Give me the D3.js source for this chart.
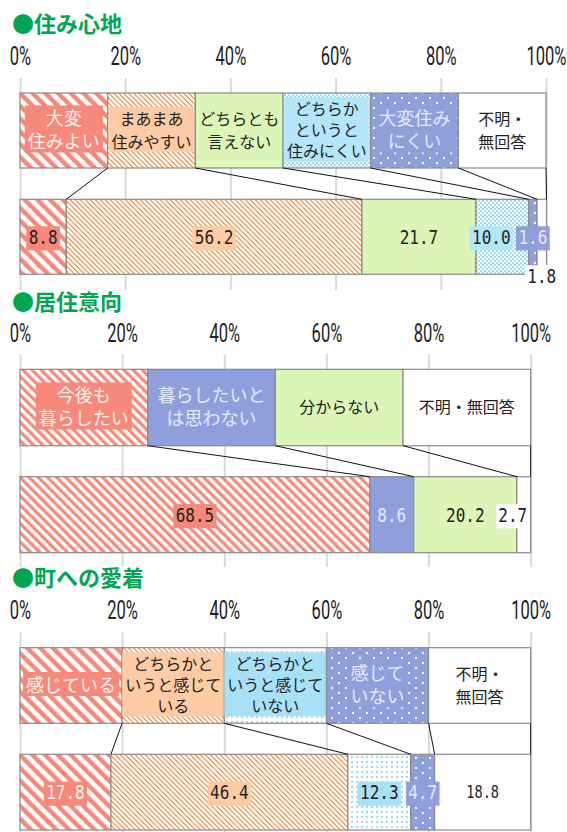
<!DOCTYPE html>
<html>
<head>
<meta charset="utf-8">
<script src="https://cdn.jsdelivr.net/npm/d3@7"></script>
<style>
body { margin: 0; background: #fff; }
</style>
</head>
<body>
<svg id="chart" width="567" height="832"></svg>
<script>
// data
var panelTitles = ["●住み心地", "●居住意向", "●町への愛着"];
var tickValues = [0, 20, 40, 60, 80, 100];

var sumiCats = ["大変\n住みよい", "まあまあ\n住みやすい", "どちらとも\n言えない", "どちらか\nというと\n住みにくい", "大変住み\nにくい", "不明・\n無回答"];
var sumiValues = [8.8, 56.2, 21.7, 10.0, 1.6, 1.8];

var kyojuCats = ["今後も\n暮らしたい", "暮らしたいと\nは思わない", "分からない", "不明・無回答"];
var kyojuValues = [68.5, 8.6, 20.2, 2.7];

var aichakuCats = ["感じている", "どちらかと\nいうと感じて\nいる", "どちらかと\nいうと感じて\nいない", "感じて\nいない", "不明・\n無回答"];
var aichakuValues = [17.8, 46.4, 12.3, 4.7, 18.8];

// styles
var fills = {
	salmonW: {fill: "url(#salmonW)", box: "#f7897b", ink: "#fff4f2", fs: 18},
	salmonN: {fill: "url(#salmonN)", box: "#f7897b", ink: "#fff4f2", fs: 18},
	orange: {fill: "url(#orange)", box: "#ffcba4", ink: "#222", fs: 16},
	green: {fill: "#dbf6b7", box: "#dbf6b7", ink: "#222", fs: 16},
	blueChk: {fill: "url(#blueChk)", box: "#b4e6f9", ink: "#222", fs: 16},
	blueDot: {fill: "url(#blueDot)", box: "#a8e0f6", ink: "#222", fs: 16},
	purpleDot: {fill: "url(#purpleDot)", box: "#8f9fdc", ink: "#e6eaff", fs: 18},
	purple: {fill: "#8f9fdc", box: "#8f9fdc", ink: "#e6eaff", fs: 18},
	white: {fill: "#fff", box: "#fff", ink: "#222", fs: 16}
};

var panels = [
	{title: panelTitles[0], cats: sumiCats, values: sumiValues,
	 styles: ["salmonW", "orange", "green", "blueChk", "purpleDot", "white"],
	 nudge: [{ink: "#222"}, {}, {}, {dx: -11}, {}, {dy: 39}]},
	{title: panelTitles[1], cats: kyojuCats, values: kyojuValues,
	 styles: ["salmonN", "purple", "green", "white"],
	 nudge: [{ink: "#222"}, {}, {}, {dx: -11}]},
	{title: panelTitles[2], cats: aichakuCats, values: aichakuValues,
	 styles: ["salmonW", "orange", "blueDot", "purpleDot", "white"],
	 nudge: [{}, {}, {}, {}, {fs: 17}]}
];

var layout = [
	{title: 24, tick: 56, gridTop: 78, gridBottom: 290, legY: 93, legH: 75, lowY: 199.3, lowH: 75, right: 546},
	{title: 302, tick: 333, gridTop: 354, gridBottom: 567, legY: 369.3, legH: 76.4, lowY: 476.7, lowH: 76, right: 530.7},
	{title: 578, tick: 610, gridTop: 632, gridBottom: 832, legY: 647.7, legH: 75.6, lowY: 754.3, lowH: 75.7, right: 530.7}
];

var svg = d3.select("#chart");
var defs = svg.append("defs");

// patterns
function stripePattern(id, s, color) {
	var p = defs.append("pattern").attr("id", id)
		.attr("patternUnits", "userSpaceOnUse")
		.attr("width", s).attr("height", s)
		.attr("patternTransform", "rotate(-45)");
	p.append("rect").attr("width", s).attr("height", s).attr("fill", "#fff");
	p.append("rect").attr("width", s / 2).attr("height", s).attr("fill", color);
}
stripePattern("salmonW", 9, "#f7897b");
stripePattern("salmonN", 6.5, "#f7897b");

var po = defs.append("pattern").attr("id", "orange")
	.attr("patternUnits", "userSpaceOnUse").attr("width", 5).attr("height", 5);
po.append("rect").attr("width", 5).attr("height", 5).attr("fill", "#fff");
d3.range(5).forEach(function(i) {
	po.append("rect").attr("x", i).attr("y", i).attr("width", 2).attr("height", 1).attr("fill", "#f7a468");
});
po.append("rect").attr("x", 0).attr("y", 4).attr("width", 1).attr("height", 1).attr("fill", "#f7a468");

var pc = defs.append("pattern").attr("id", "blueChk")
	.attr("patternUnits", "userSpaceOnUse").attr("width", 4).attr("height", 4);
pc.append("rect").attr("width", 4).attr("height", 4).attr("fill", "#9fdbf4");
pc.append("rect").attr("width", 2).attr("height", 2).attr("fill", "#fff");
pc.append("rect").attr("x", 2).attr("y", 2).attr("width", 2).attr("height", 2).attr("fill", "#fff");

var pb = defs.append("pattern").attr("id", "blueDot")
	.attr("patternUnits", "userSpaceOnUse").attr("width", 5).attr("height", 5);
pb.append("rect").attr("width", 5).attr("height", 5).attr("fill", "#fff");
pb.append("rect").attr("x", 1).attr("y", 1).attr("width", 2).attr("height", 2).attr("fill", "#9fdbf4");

var pp = defs.append("pattern").attr("id", "purpleDot")
	.attr("patternUnits", "userSpaceOnUse").attr("width", 14).attr("height", 10);
pp.append("rect").attr("width", 14).attr("height", 10).attr("fill", "#8f9fdc");
pp.append("rect").attr("x", 2).attr("y", 2).attr("width", 2).attr("height", 2).attr("fill", "#fff");
pp.append("rect").attr("x", 9).attr("y", 7).attr("width", 2).attr("height", 2).attr("fill", "#fff");

var jpFont = "'Noto Sans CJK JP', 'Noto Sans', sans-serif";

panels.forEach(function(pd, pi) {
	var L = layout[pi];
	var x = d3.scaleLinear().domain([0, 100]).range([20, L.right]);
	var n = pd.cats.length;

	// title
	svg.append("text")
		.attr("x", 12).attr("y", L.title).attr("dy", "0.38em")
		.style("font", "bold 22px " + jpFont)
		.attr("fill", "#00a651")
		.text(pd.title);

	// axis with grid
	var axis = d3.axisTop(x)
		.tickValues(tickValues)
		.tickFormat(function(d) { return d + "%"; })
		.tickSize(-(L.gridBottom - L.gridTop))
		.tickSizeOuter(0);
	var ga = svg.append("g")
		.attr("transform", "translate(0," + L.gridTop + ")")
		.call(axis);
	ga.select(".domain").remove();
	ga.selectAll(".tick line").attr("stroke", "#d9d9d9").attr("stroke-width", 2);
	ga.selectAll(".tick text")
		.attr("y", L.tick - L.gridTop)
		.attr("dy", "0.36em")
		.attr("transform", "scale(0.66,1)")
		.attr("fill", "#222")
		.style("font", "25px Roboto, sans-serif");

	// legend bar (equal segments)
	var lg = svg.append("g");
	pd.cats.forEach(function(c, i) {
		var st = fills[pd.styles[i]];
		var x0 = x(i / n * 100), x1 = x((i + 1) / n * 100);
		lg.append("rect")
			.attr("x", x0).attr("y", L.legY)
			.attr("width", x1 - x0).attr("height", L.legH)
			.attr("fill", st.fill)
			.attr("stroke", "#8a8a8a").attr("stroke-width", 1.2);
		var lines = c.split("\n");
		var lh = lines.length > 2 ? 21 : 23;
		var cx = (x0 + x1) / 2, cy = L.legY + L.legH / 2;
		var lab = lg.append("g");
		var t = lab.append("text")
			.attr("text-anchor", "middle")
			.attr("fill", st.ink)
			.style("font", st.fs + "px " + jpFont);
		lines.forEach(function(s, k) {
			t.append("tspan")
				.attr("x", cx)
				.attr("y", cy + (k - (lines.length - 1) / 2) * lh)
				.attr("dy", "0.36em")
				.text(s);
		});
		var bb = t.node().getBBox();
		lab.insert("rect", "text")
			.attr("x", bb.x - 3).attr("y", bb.y + 1)
			.attr("width", bb.width + 6).attr("height", bb.height - 2)
			.attr("fill", st.box);
	});

	// lower bar (values)
	var cum = d3.cumsum(pd.values);
	var bg = svg.append("g");
	pd.values.forEach(function(v, i) {
		var st = fills[pd.styles[i]];
		var x0 = x(cum[i] - v), x1 = x(cum[i]);
		bg.append("rect")
			.attr("x", x0).attr("y", L.lowY)
			.attr("width", x1 - x0).attr("height", L.lowH)
			.attr("fill", st.fill)
			.attr("stroke", "#8a8a8a").attr("stroke-width", 1.2);
	});

	// connector lines
	for (var i = 1; i <= n; i++) {
		svg.append("line")
			.attr("x1", x(i / n * 100)).attr("y1", L.legY + L.legH)
			.attr("x2", x(cum[i - 1])).attr("y2", L.lowY)
			.attr("stroke", "#111").attr("stroke-width", 1);
	}

	// value labels
	pd.values.forEach(function(v, i) {
		var st = fills[pd.styles[i]];
		var nd = pd.nudge[i] || {};
		var cx = x(cum[i] - v / 2) + (nd.dx || 0);
		var cy = L.lowY + L.lowH / 2 + (nd.dy || 0);
		var g = svg.append("g").attr("transform", "translate(" + cx + "," + cy + ") scale(0.8,1)");
		var t = g.append("text")
			.attr("text-anchor", "middle")
			.attr("dy", "0.36em")
			.attr("fill", nd.ink || st.ink)
			.style("font", (nd.fs || 20) + "px 'DejaVu Sans Mono', monospace")
			.text(v.toFixed(1));
		var bb = t.node().getBBox();
		g.insert("rect", "text")
			.attr("x", bb.x - 3).attr("y", bb.y + 1)
			.attr("width", bb.width + 6).attr("height", bb.height + 1)
			.attr("fill", st.box);
	});
});
</script>
</body>
</html>
